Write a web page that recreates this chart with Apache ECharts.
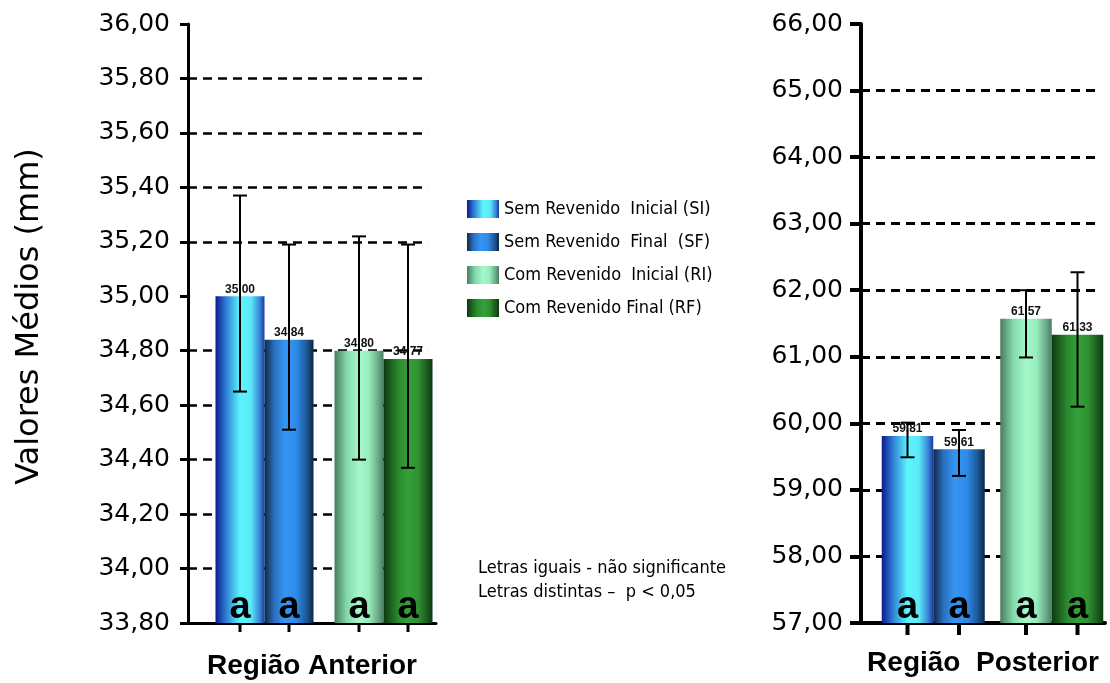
<!DOCTYPE html>
<html>
<head>
<meta charset="utf-8">
<script src="https://cdn.jsdelivr.net/npm/echarts@6/dist/echarts.min.js"></script>
<style>
  html, body { margin: 0; padding: 0; background: #fff; }
  #chart { width: 1110px; height: 683px; }
</style>
</head>
<body>
<div id="chart"></div>
<script>
// Treatment series (legend order)
const seriesNames = [
  'Sem Revenido  Inicial (SI)',
  'Sem Revenido  Final  (SF)',
  'Com Revenido  Inicial (RI)',
  'Com Revenido Final (RF)'
];
// Each series sits in one of two adjacent pairs
const groupNames = ['Sem Revenido', 'Com Revenido'];
const seriesGroup = [0, 0, 1, 1];
const seriesSlot = [0, 1, 0, 1];

// Região Anterior (mm)
const anteriorMeans = [35.00, 34.84, 34.80, 34.77];
const anteriorLower = [34.65, 34.51, 34.40, 34.37];
const anteriorUpper = [35.37, 35.19, 35.22, 35.19];
const anteriorLetters = ['a', 'a', 'a', 'a'];
const anteriorDashed = [35.8, 35.6, 35.4, 35.2, 34.8, 34.6, 34.4, 34.2, 34.0];

// Região Posterior (mm)
const posteriorMeans = [59.81, 59.61, 61.57, 61.33];
const posteriorLower = [59.49, 59.21, 60.99, 60.25];
const posteriorUpper = [60.01, 59.90, 62.00, 62.27];
const posteriorLetters = ['a', 'a', 'a', 'a'];
const posteriorDashed = [65, 64, 63, 62, 61, 60, 59, 58];

// Horizontal cylinder-like shading for each series
const barShades = [
  [[0, '#0a1a8c'], [0.22, '#2f7fd6'], [0.5, '#5cf5fc'], [0.72, '#5ce9f9'], [0.9, '#3a86d6'], [1, '#1b3aa2']],
  [[0, '#0e2846'], [0.2, '#2a6fbe'], [0.42, '#3496f4'], [0.65, '#2f8ae8'], [0.86, '#1d5896'], [1, '#0c2744']],
  [[0, '#4a7c60'], [0.25, '#82d9aa'], [0.5, '#a4f8ca'], [0.7, '#98edbd'], [0.9, '#68a686'], [1, '#4a7c60']],
  [[0, '#0e3811'], [0.3, '#2a8a2e'], [0.5, '#35a038'], [0.7, '#2e9332'], [0.9, '#1a581c'], [1, '#0e3811']]
];

const NARROW = '"DejaVu Sans Condensed", "Liberation Sans Narrow", sans-serif';
const SANS = '"Liberation Sans", Arial, sans-serif';
const WIDE = '"DejaVu Sans", Verdana, sans-serif';

function shade(stops) {
  return new echarts.graphic.LinearGradient(0, 0, 1, 0,
    stops.map(s => ({ offset: s[0], color: s[1] })));
}
function comma(v) { return Number(v).toFixed(2).replace('.', ','); }

const panels = [
  {
    means: anteriorMeans, lower: anteriorLower, upper: anteriorUpper, letters: anteriorLetters,
    dashed: anteriorDashed, min: 33.8, max: 36, interval: 0.2,
    title: 'Região Anterior', yName: 'Valores Médios (mm)',
    frame: { left: 188, width: 248 }, bars: { left: 205, width: 238 }, dashEnd: 0.968,
    barWidth: 49, axisW: 3, dashW: 2.5, tickLen: 8, nameGap: 29
  },
  {
    means: posteriorMeans, lower: posteriorLower, upper: posteriorUpper, letters: posteriorLetters,
    dashed: posteriorDashed, min: 57, max: 66, interval: 1,
    title: 'Região  Posterior', yName: '',
    frame: { left: 861, width: 244 }, bars: { left: 874, width: 237 }, dashEnd: 0.967,
    barWidth: 51.5, axisW: 4, dashW: 3, tickLen: 11, nameGap: 26
  }
];

const grid = [], xAxis = [], yAxis = [], series = [];

panels.forEach((p, pi) => {
  const fi = pi * 2, bi = pi * 2 + 1;
  grid.push({ left: p.frame.left, width: p.frame.width, top: 24, height: 599, outerBoundsMode: 'none', containLabel: false });
  grid.push({ left: p.bars.left, width: p.bars.width, top: 24, height: 599, outerBoundsMode: 'none', containLabel: false });

  // frame axes: visible y scale, baseline and region title
  xAxis.push({
    gridIndex: fi, type: 'value', min: 0, max: 1,
    axisLine: { show: true, lineStyle: { color: '#000', width: p.axisW } },
    axisTick: { show: false }, axisLabel: { show: false }, splitLine: { show: false },
    name: p.title, nameLocation: 'middle', nameGap: p.nameGap,
    nameTextStyle: { fontFamily: SANS, fontWeight: 'bold', fontSize: 28, color: '#000' }
  });
  yAxis.push({
    gridIndex: fi, type: 'value', min: p.min, max: p.max, interval: p.interval,
    axisLine: { show: true, lineStyle: { color: '#000', width: p.axisW } },
    axisTick: { show: true, inside: false, length: p.tickLen, lineStyle: { color: '#000', width: p.axisW } },
    axisLabel: { formatter: v => comma(v), margin: 18, fontFamily: WIDE, fontSize: 25, color: '#000' },
    splitLine: { show: false },
    name: p.yName, nameLocation: 'middle', nameGap: 142,
    nameTextStyle: { fontFamily: WIDE, fontSize: 32, color: '#000', padding: [0, 0, 0, 14] }
  });
  // bar axes share the same value range
  xAxis.push({ gridIndex: bi, type: 'category', data: groupNames, show: false });
  yAxis.push({ gridIndex: bi, type: 'value', min: p.min, max: p.max, show: false, splitLine: { show: false } });

  // dashed reference lines, kept beneath the bars
  series.push({
    type: 'line', xAxisIndex: fi, yAxisIndex: fi, data: [], z: 1, silent: true,
    markLine: {
      silent: true, symbol: 'none', animation: false, z: 1,
      label: { show: false },
      lineStyle: { color: '#000', width: p.dashW, type: [9, 6] },
      data: p.dashed.map(v => [{ xAxis: 0, yAxis: v }, { xAxis: p.dashEnd, yAxis: v }])
    }
  });

  seriesNames.forEach((name, si) => {
    series.push({
      type: 'bar', name: name, xAxisIndex: bi, yAxisIndex: bi,
      stack: 'p' + pi + 's' + seriesSlot[si],
      data: groupNames.map((g, gi) => gi === seriesGroup[si] ? p.means[si] : null),
      barWidth: p.barWidth, barGap: '0%', z: 2,
      itemStyle: { color: shade(barShades[si]) },
      label: {
        show: true, position: 'top', distance: 1,
        formatter: prm => comma(prm.value),
        fontFamily: SANS, fontWeight: 'bold', fontSize: 12, color: '#111'
      }
    });
  });

  // error bars, significance letters and baseline ticks
  series.push({
    type: 'custom', xAxisIndex: bi, yAxisIndex: bi, z: 3, silent: true,
    encode: { x: 0, y: 2 },
    data: p.means.map((m, si) => [seriesGroup[si], seriesSlot[si], m, p.lower[si], p.upper[si], si]),
    renderItem: (params, api) => {
      const gi = api.value(0), slot = api.value(1), si = api.value(5);
      const c = api.coord([gi, api.value(2)]);
      const x = c[0] + (slot - 0.5) * p.barWidth;
      const yU = api.coord([gi, api.value(4)])[1];
      const yL = api.coord([gi, api.value(3)])[1];
      const yB = api.coord([gi, p.min])[1];
      const cap = 7;
      const st = { stroke: '#000', lineWidth: 2 };
      return {
        type: 'group',
        children: [
          { type: 'line', shape: { x1: x, y1: yU, x2: x, y2: yL }, style: st },
          { type: 'line', shape: { x1: x - cap, y1: yU, x2: x + cap, y2: yU }, style: st },
          { type: 'line', shape: { x1: x - cap, y1: yL, x2: x + cap, y2: yL }, style: st },
          { type: 'line', shape: { x1: x, y1: yB, x2: x, y2: yB + p.tickLen + 1 },
            style: { stroke: '#000', lineWidth: p.axisW } },
          {
            type: 'text',
            style: {
              text: p.letters[si], x: x, y: yB - 15,
              align: 'center', verticalAlign: 'middle',
              font: 'bold 38px ' + SANS, fill: '#000',
              textShadowColor: '#9a9a9a', textShadowOffsetX: 2, textShadowOffsetY: 2, textShadowBlur: 0
            }
          }
        ]
      };
    }
  });
});

const chart = echarts.init(document.getElementById('chart'));
chart.setOption({
  animation: false,
  backgroundColor: '#fff',
  grid, xAxis, yAxis, series,
  legend: {
    data: seriesNames, orient: 'vertical', left: 462, top: 195,
    itemWidth: 32, itemHeight: 18, itemGap: 15, icon: 'rect', selectedMode: false,
    textStyle: { fontFamily: NARROW, fontSize: 18, color: '#000' }
  },
  graphic: [{
    type: 'text', left: 478, top: 556,
    style: {
      text: 'Letras iguais - não significante\nLetras distintas –  p < 0,05',
      font: '18px ' + NARROW, fill: '#000', lineHeight: 24
    }
  }]
});
</script>
</body>
</html>
